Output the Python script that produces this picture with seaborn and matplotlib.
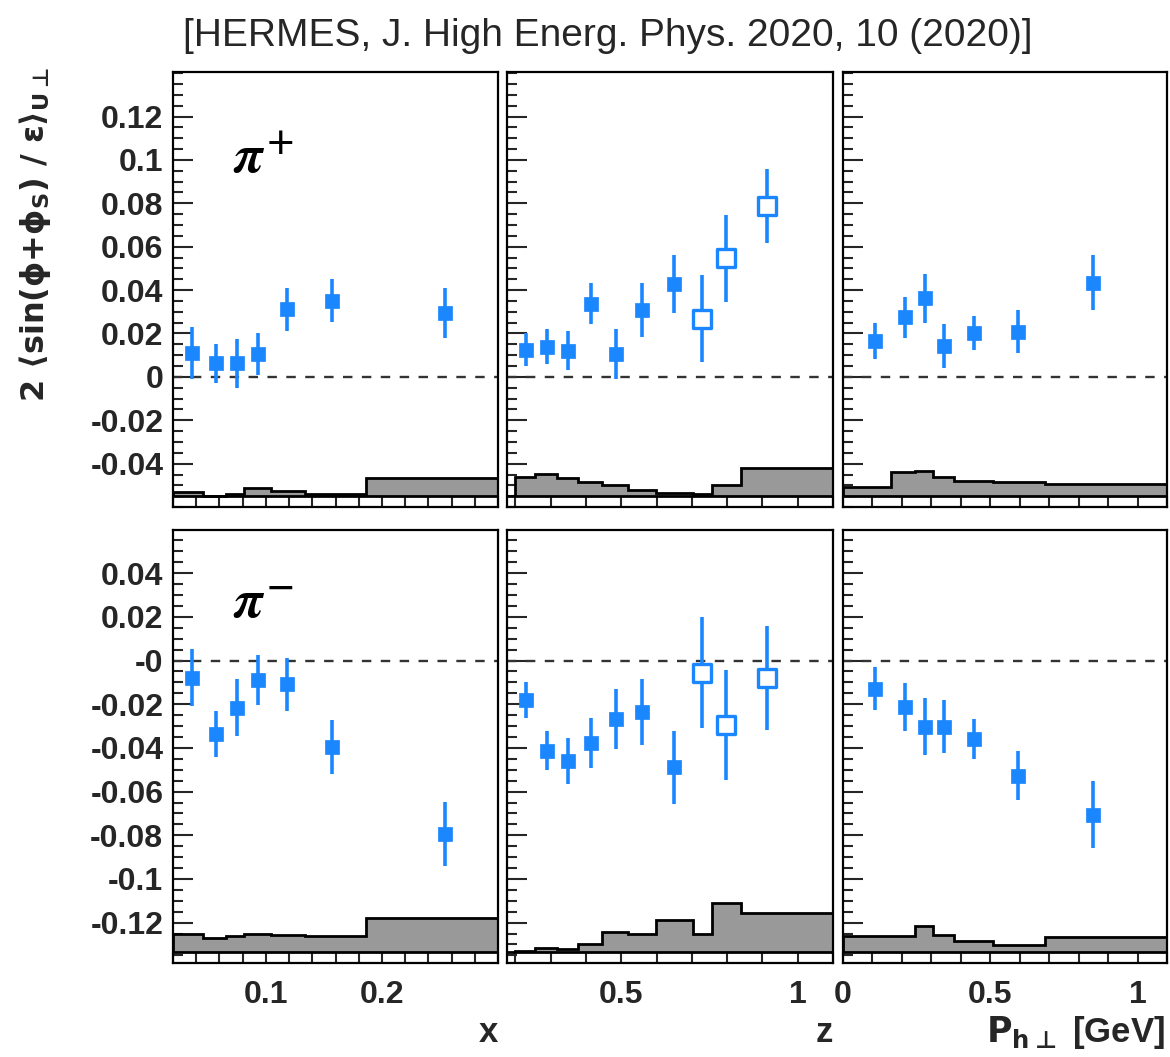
import numpy as np
import matplotlib
matplotlib.use("Agg")
import matplotlib.pyplot as plt
import seaborn as sns
from matplotlib.ticker import MultipleLocator, FixedLocator, FixedFormatter

# kinematic bin centres
x_vals = [0.036, 0.057, 0.075, 0.093, 0.118, 0.157, 0.254]
z_vals = [0.229, 0.289, 0.349, 0.414, 0.484, 0.558, 0.649, 0.730, 0.798, 0.913]
pt_vals = [0.110, 0.211, 0.279, 0.344, 0.444, 0.594, 0.849]

# pi+ asymmetries
pip_x = [0.0112, 0.0062, 0.0062, 0.0105, 0.0312, 0.0351, 0.0294]
pip_x_err = [0.012, 0.009, 0.0113, 0.0097, 0.0099, 0.010, 0.0115]
pip_z = [0.0125, 0.0140, 0.0120, 0.0338, 0.0105, 0.0308, 0.0428, 0.0269, 0.0546, 0.0788]
pip_z_err = [0.0075, 0.008, 0.009, 0.0096, 0.0115, 0.0123, 0.0133, 0.020, 0.020, 0.0171]
pip_pt = [0.0166, 0.0274, 0.0363, 0.0142, 0.0202, 0.0209, 0.0435]
pip_pt_err = [0.0084, 0.0094, 0.0113, 0.0103, 0.008, 0.0097, 0.0125]

# pi- asymmetries
pim_x = [-0.0078, -0.0335, -0.0215, -0.0089, -0.0109, -0.0397, -0.0794]
pim_x_err = [0.013, 0.0105, 0.013, 0.0114, 0.012, 0.0124, 0.0146]
pim_z = [-0.0182, -0.0412, -0.0458, -0.0377, -0.0266, -0.0235, -0.0489, -0.0055, -0.0294, -0.0078]
pim_z_err = [0.0082, 0.0091, 0.0105, 0.0113, 0.0137, 0.0152, 0.0168, 0.0255, 0.0253, 0.0238]
pim_pt = [-0.0128, -0.0212, -0.0302, -0.0302, -0.0358, -0.0528, -0.0705]
pim_pt_err = [0.010, 0.0111, 0.0132, 0.0123, 0.0091, 0.0112, 0.0154]

# systematic bands
x_edges = [0.02, 0.046, 0.066, 0.081, 0.104, 0.134, 0.186, 0.30]
z_edges = [0.198, 0.255, 0.317, 0.378, 0.445, 0.519, 0.599, 0.703, 0.758, 0.839, 1.10]
pt_edges = [0.0, 0.164, 0.243, 0.306, 0.376, 0.509, 0.685, 1.10]
pip_x_sys = [0.0018, 0.0003, 0.0011, 0.0038, 0.0026, 0.0011, 0.0085]
pip_z_sys = [0.009, 0.0104, 0.0082, 0.0067, 0.005, 0.0028, 0.0015, 0.0008, 0.0052, 0.0128]
pip_pt_sys = [0.0042, 0.0112, 0.0116, 0.0088, 0.007, 0.0065, 0.0058]
pim_x_sys = [0.0083, 0.0063, 0.0075, 0.0083, 0.0077, 0.0072, 0.0157]
pim_z_sys = [0.0003, 0.0018, 0.0012, 0.0038, 0.0092, 0.0085, 0.0149, 0.0085, 0.0223, 0.0177]
pim_pt_sys = [0.0075, 0.0075, 0.0118, 0.008, 0.0049, 0.0034, 0.0069]

n_open_z = 3  # last z bins drawn as open squares

sns.set_style("ticks")
plt.rcParams['font.family'] = ['Liberation Sans', 'DejaVu Sans']
plt.rcParams['font.weight'] = 'bold'
plt.rcParams['axes.unicode_minus'] = False

blue = '#1a87ff'
fig = plt.figure(figsize=(11.7, 10.57), dpi=100)

cols = [(0.1479, 0.2778), (0.4333, 0.2786), (0.7205, 0.2769)]
rows = [(0.5203, 0.4115), (0.0889, 0.4097)]
xlims = [(0.02, 0.30), (0.176, 1.10), (0.0, 1.10)]
ylims = [(-0.060, 0.1405), (-0.1385, 0.0598)]
bases = [-0.055, -0.1335]
xmajor = [[0.1, 0.2], [0.5, 1.0], [0.0, 0.5, 1.0]]
xmajor_lbl = [['0.1', '0.2'], ['0.5', '1'], ['0', '0.5', '1']]
xminor = [0.02, 0.1, 0.1]
ymajor = [[0.12, 0.1, 0.08, 0.06, 0.04, 0.02, 0.0, -0.02, -0.04],
          [0.04, 0.02, 0.0, -0.02, -0.04, -0.06, -0.08, -0.1, -0.12]]
ymajor_lbl = [['0.12', '0.1', '0.08', '0.06', '0.04', '0.02', '0', '-0.02', '-0.04'],
              ['0.04', '0.02', '-0', '-0.02', '-0.04', '-0.06', '-0.08', '-0.1', '-0.12']]

kin = [x_vals, z_vals, pt_vals]
edges = [x_edges, z_edges, pt_edges]
vals = [[pip_x, pip_z, pip_pt], [pim_x, pim_z, pim_pt]]
errs = [[pip_x_err, pip_z_err, pip_pt_err], [pim_x_err, pim_z_err, pim_pt_err]]
syss = [[pip_x_sys, pip_z_sys, pip_pt_sys], [pim_x_sys, pim_z_sys, pim_pt_sys]]

for r in range(2):
    for c in range(3):
        ax = fig.add_axes([cols[c][0], rows[r][0], cols[c][1], rows[r][1]])
        base = bases[r]
        xs = np.array(kin[c])
        ys = np.array(vals[r][c])
        es = np.array(errs[r][c])

        # systematic band
        top = base + np.array(syss[r][c])
        ax.stairs(top, edges[c], baseline=base, fill=True,
                  facecolor='#999999', edgecolor='black', lw=2, zorder=2)
        ax.axhline(base, color='black', lw=2, zorder=2)
        ax.axhline(0, color='#333333', lw=1.7, ls=(0, (4, 4)), zorder=1)

        ax.errorbar(xs, ys, yerr=es, fmt='none', ecolor=blue, elinewidth=2.6,
                    capsize=0, zorder=3)
        is_open = np.zeros(len(xs), dtype=bool)
        if c == 1:
            is_open[-n_open_z:] = True
        sns.scatterplot(x=xs[~is_open], y=ys[~is_open], ax=ax, marker='s', s=100,
                        color=blue, edgecolor=blue, linewidth=0.5, zorder=4, legend=False)
        if is_open.any():
            sns.scatterplot(x=xs[is_open], y=ys[is_open], ax=ax, marker='s', s=150,
                            facecolor='white', edgecolor=blue, linewidth=2.4,
                            zorder=4, legend=False)

        ax.set_xlim(*xlims[c])
        ax.set_ylim(*ylims[r])
        ax.set_xlabel('')
        ax.set_ylabel('')
        for sp in ax.spines.values():
            sp.set_visible(True)
            sp.set_linewidth(1.6)
            sp.set_color('black')

        ax.yaxis.set_major_locator(FixedLocator(ymajor[r]))
        ax.yaxis.set_minor_locator(MultipleLocator(0.005))
        ax.xaxis.set_major_locator(FixedLocator(xmajor[c]))
        ax.xaxis.set_minor_locator(MultipleLocator(xminor[c]))
        ax.tick_params(axis='y', which='major', direction='in', length=14.5, width=1.5,
                       left=True, right=False, labelsize=23, pad=7)
        ax.tick_params(axis='y', which='minor', direction='in', length=7.2, width=1.5,
                       left=True, right=False)
        ax.tick_params(axis='x', which='both', direction='in', length=8, width=1.5,
                       bottom=True, top=False, labelsize=23, pad=12)
        if c == 0:
            ax.yaxis.set_major_formatter(FixedFormatter(ymajor_lbl[r]))
        else:
            ax.set_yticklabels([])
        if r == 1:
            ax.xaxis.set_major_formatter(FixedFormatter(xmajor_lbl[c]))
        else:
            ax.set_xticklabels([])
        for lbl in ax.get_xticklabels() + ax.get_yticklabels():
            lbl.set_fontweight('bold')

        if c == 0:
            name = r'$\pi^{+}$' if r == 0 else r'$\pi^{-}$'
            ax.text(0.185, 0.77 if r == 0 else 0.797, name, transform=ax.transAxes,
                    fontsize=38, math_fontfamily='stix', va='baseline', ha='left',
                    color='black', zorder=5)

fig.text(0.5196, 0.966, '[HERMES, J. High Energ. Phys. 2020, 10 (2020)]',
         ha='center', va='center', fontsize=28, fontweight='normal')
fig.text(0.030, 0.778,
         r'$\mathbf{2}\ \langle\mathbf{sin}(\mathrm{\phi}\mathbf{+}\mathrm{\phi}_{\mathbf{S}})\ \mathbf{/}\ \mathrm{\varepsilon}\rangle_{\mathbf{U}\bot}$',
         rotation=90, ha='center', va='center', fontsize=23, fontweight='normal',
         math_fontfamily='dejavusans')
fig.text(498 / 1170, 1 - 1042 / 1057, 'x', ha='right', va='baseline', fontsize=25, fontweight='bold')
fig.text(833 / 1170, 1 - 1042 / 1057, 'z', ha='right', va='baseline', fontsize=25, fontweight='bold')
fig.text(1165 / 1170, 1 - 1042 / 1057, r'$\mathbf{P}_{\mathbf{h}\bot}$ [GeV]', ha='right', va='baseline',
         fontsize=25, fontweight='bold', math_fontfamily='dejavusans')

fig.savefig('out.png', dpi=100)
